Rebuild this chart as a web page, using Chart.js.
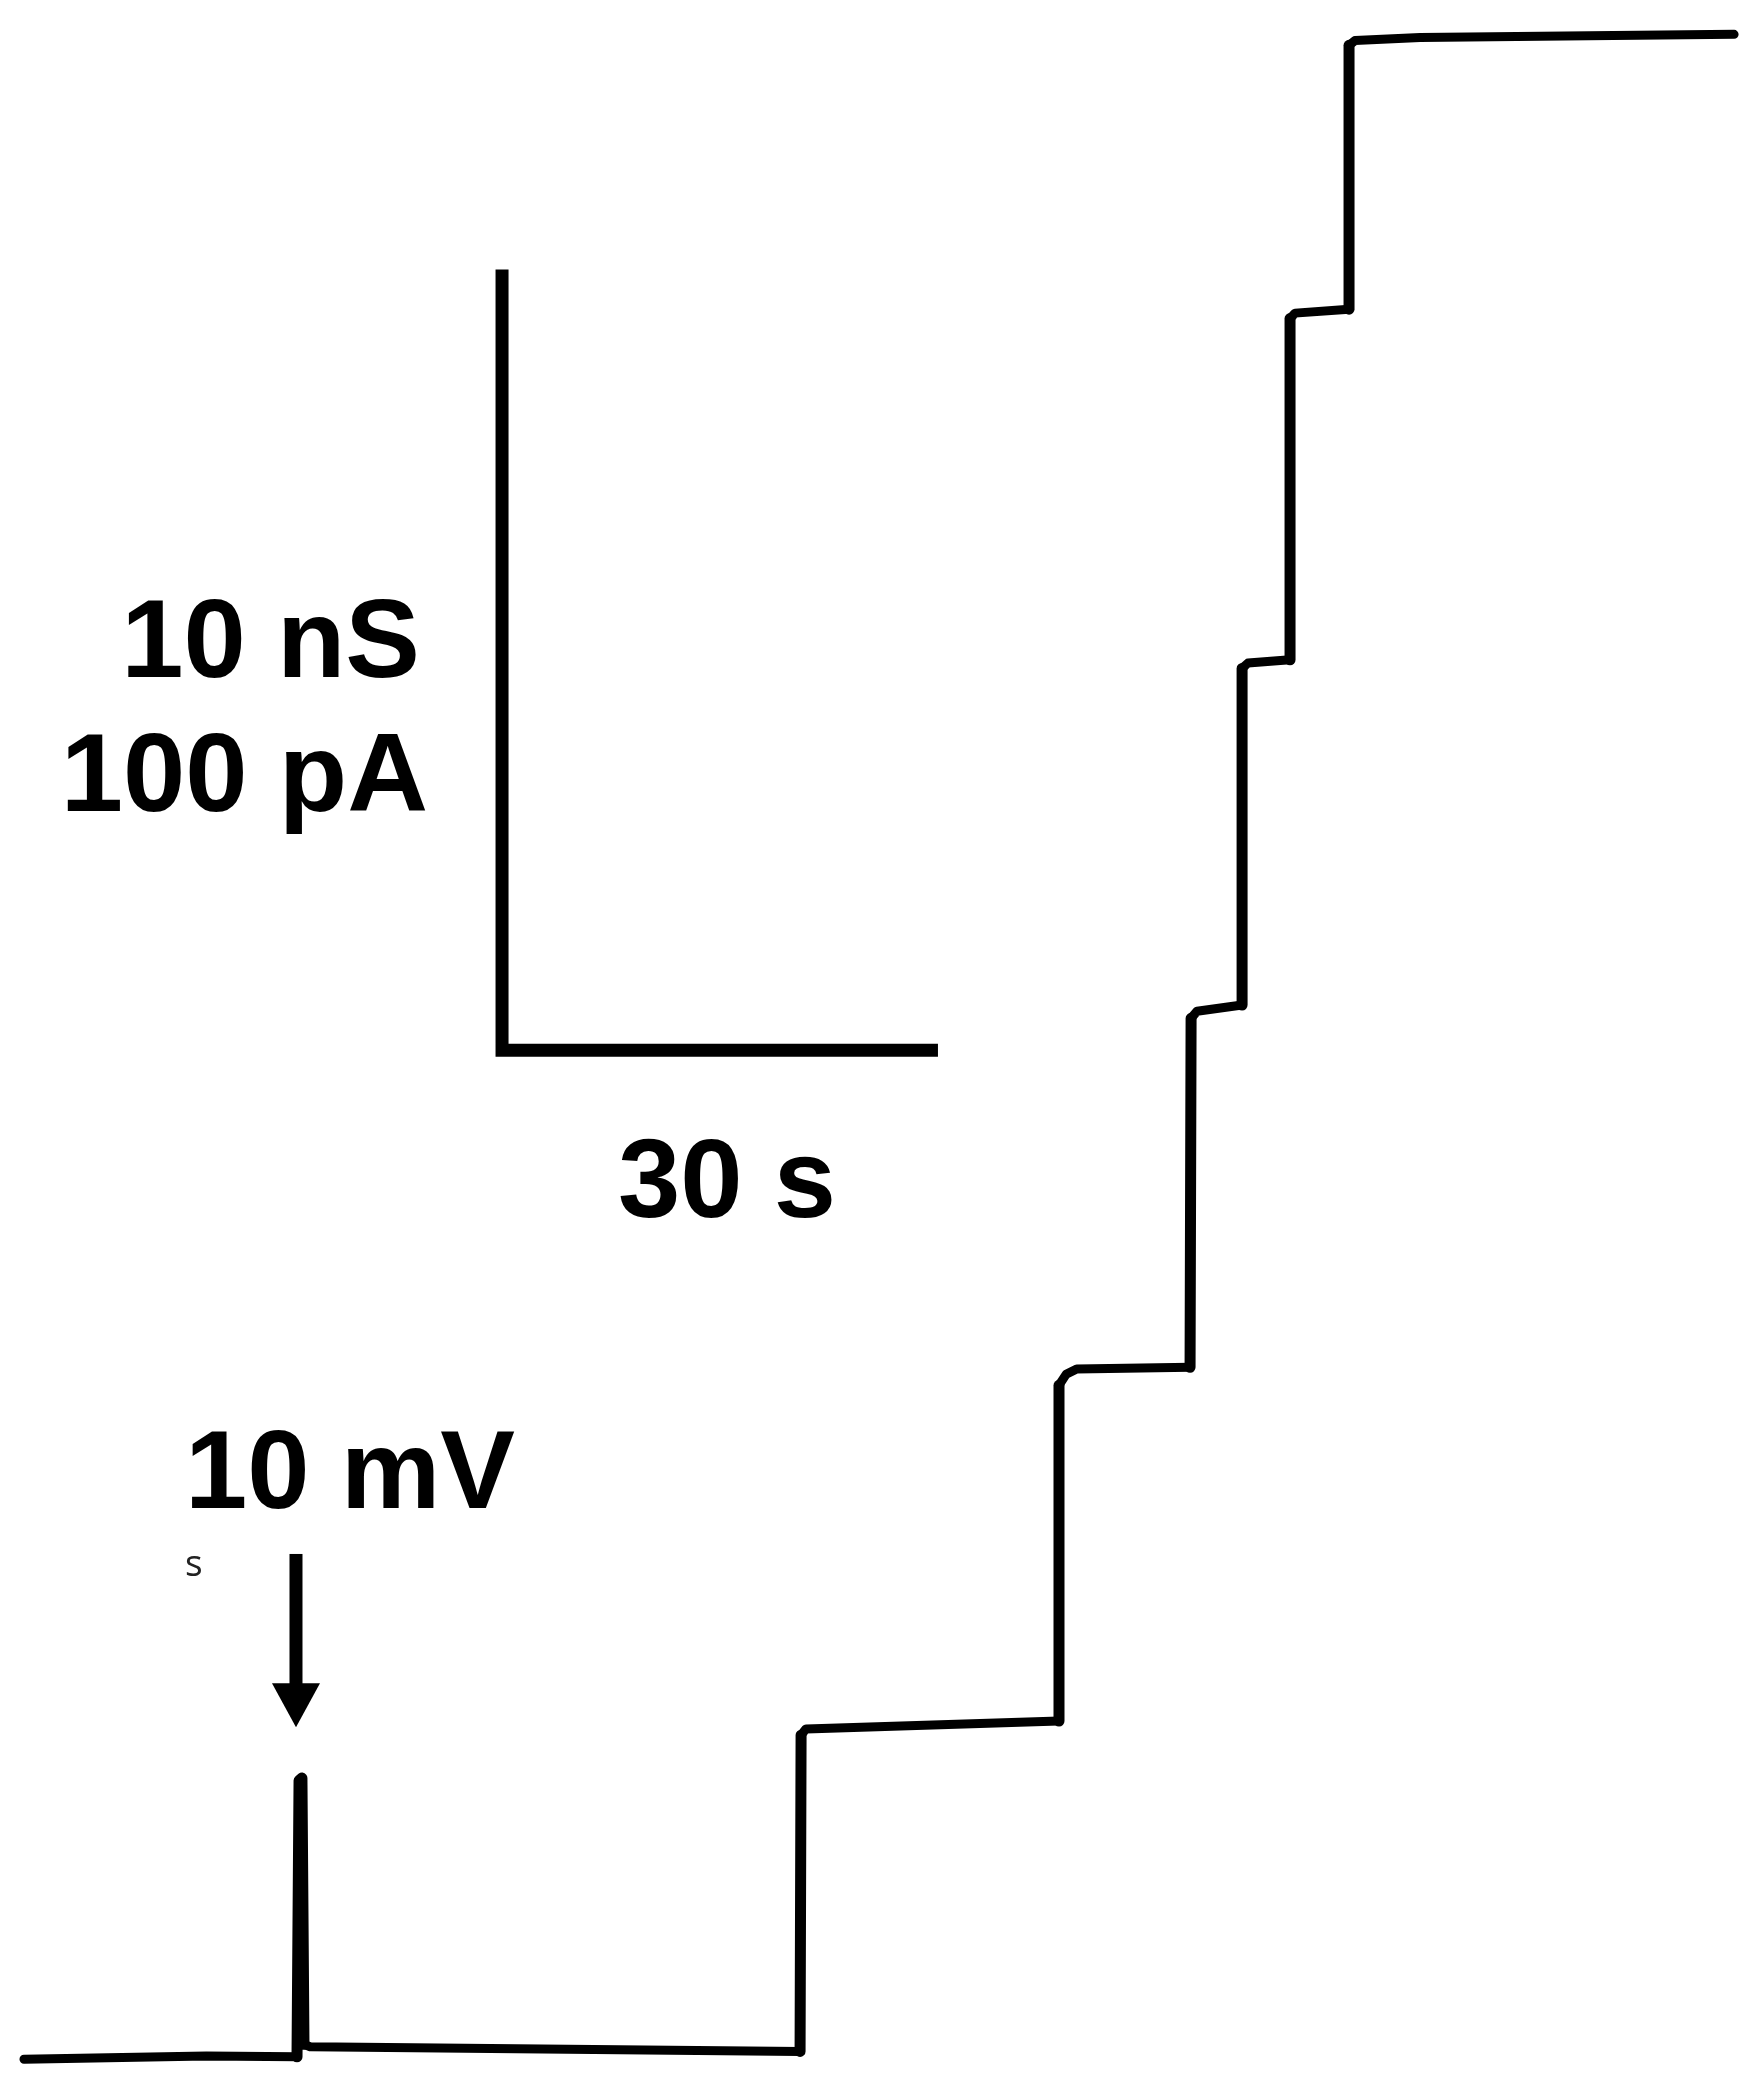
<!DOCTYPE html>
<html>
<head>
<meta charset="utf-8">
<title>Stepwise conductance</title>
<script src="https://cdn.jsdelivr.net/npm/chart.js@4.4.0/dist/chart.umd.min.js"></script>
<style>
  html, body { margin: 0; padding: 0; background: #fff; }
  #wrap { width: 1762px; height: 2092px; position: relative; }
</style>
</head>
<body>
<div id="wrap"><canvas id="trace" width="1762" height="2092"></canvas></div>
<script>
// time (s) and conductance (nS)
const traceTime = [1.65, 14.2, 20.44, 20.58, 20.78, 20.92, 21.34, 55.06, 55.13, 55.47, 72.88, 72.88, 73.37, 74.1, 81.90,
  81.97, 82.38, 85.48, 85.48, 85.89, 88.78, 88.78, 89.13, 92.84, 92.84, 93.25, 97.73, 119.34];
const traceCond = [0.42, 0.46, 0.45, 3.99, 4.02, 0.61, 0.58, 0.52, 4.57, 4.65, 4.75, 9.05, 9.19, 9.26, 9.28,
  13.75, 13.84, 13.92, 18.23, 18.30, 18.34, 22.71, 22.78, 22.83, 26.21, 26.27, 26.31, 26.35];

// scale bar: 30 s by 10 nS
const barTime = [34.55, 34.55, 64.55];
const barCond = [23.34, 13.34, 13.34];

// stimulus arrow (10 mV step)
const arrowTime = 20.37;
const arrowCond = [6.89, 4.67];

const xRange = [0, 121.26];
const yRange = [0, 26.79];

const toPoints = (xs, ys) => xs.map((x, i) => ({ x: x, y: ys[i] }));

const annotations = {
  id: 'annotations',
  afterDatasetsDraw(chart) {
    const { ctx, scales: { x, y } } = chart;
    ctx.save();
    ctx.fillStyle = '#000';

    // arrow
    const ax = x.getPixelForValue(arrowTime);
    const top = y.getPixelForValue(arrowCond[0]);
    const tip = y.getPixelForValue(arrowCond[1]);
    ctx.fillRect(ax - 6.5, top, 13, tip - top - 40);
    ctx.beginPath();
    ctx.moveTo(ax - 24, tip - 44);
    ctx.lineTo(ax + 24, tip - 44);
    ctx.lineTo(ax, tip);
    ctx.closePath();
    ctx.fill();

    // labels
    const bx = x.getPixelForValue(barTime[0]);
    const by = y.getPixelForValue(barCond[1]);
    ctx.font = 'bold 112px "Liberation Sans", Arial, sans-serif';
    ctx.textBaseline = 'alphabetic';
    ctx.textAlign = 'right';
    ctx.fillText('10 nS', bx - 82, by - 373);
    ctx.fillText('100 pA', bx - 74, by - 239);
    ctx.textAlign = 'center';
    ctx.fillText('30 s', (bx + x.getPixelForValue(barTime[2])) / 2 + 7, by + 167);
    ctx.textAlign = 'left';
    ctx.fillText('10 mV', ax - 111, top - 46);

    ctx.font = '37px "Open Sans", sans-serif';
    ctx.fillStyle = '#222';
    ctx.fillText('s', ax - 111, top + 22);
    ctx.restore();
  }
};

new Chart(document.getElementById('trace'), {
  type: 'line',
  data: {
    datasets: [
      {
        data: toPoints(traceTime, traceCond),
        borderColor: '#000',
        borderWidth: 9,
        borderJoinStyle: 'round',
        borderCapStyle: 'round',
        segment: {
          borderWidth: c => Math.abs(c.p0.x - c.p1.x) < 4 ? 11 : 9
        },
        pointRadius: 0,
        tension: 0,
        fill: false
      },
      {
        data: toPoints(barTime, barCond),
        borderColor: '#000',
        borderWidth: 13,
        borderJoinStyle: 'miter',
        borderCapStyle: 'butt',
        pointRadius: 0,
        tension: 0,
        fill: false
      }
    ]
  },
  options: {
    responsive: false,
    animation: false,
    events: [],
    layout: { padding: 0 },
    scales: {
      x: { type: 'linear', min: xRange[0], max: xRange[1], display: false },
      y: { type: 'linear', min: yRange[0], max: yRange[1], display: false }
    },
    plugins: {
      legend: { display: false },
      tooltip: { enabled: false }
    }
  },
  plugins: [annotations]
});
</script>
</body>
</html>
